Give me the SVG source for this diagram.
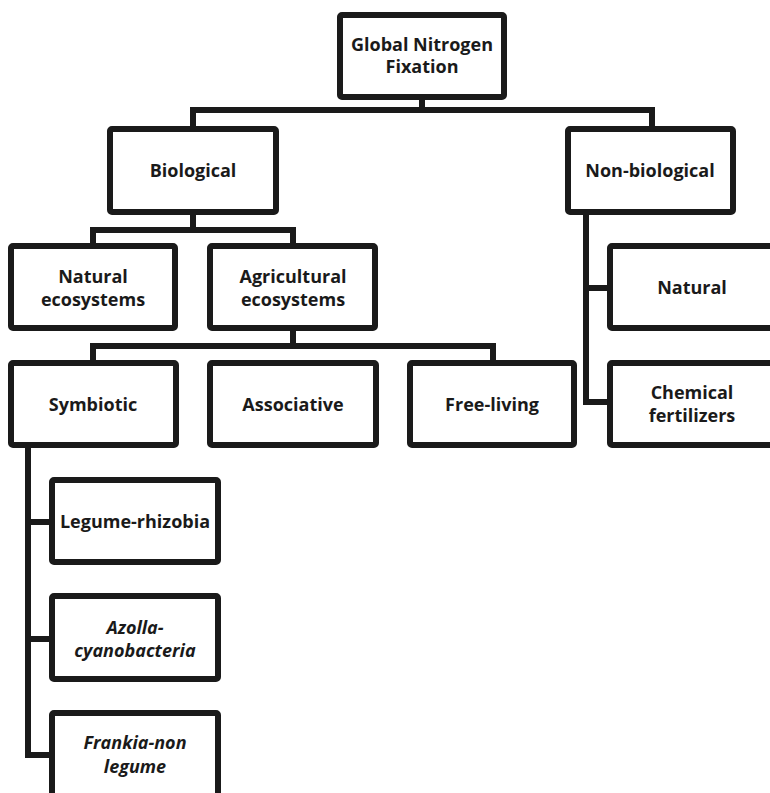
<svg xmlns="http://www.w3.org/2000/svg" width="770" height="793" viewBox="0 0 770 793">
<style>
.box{fill:#fff;stroke:#1a1a1a;stroke-width:6;stroke-linejoin:round}
.conn{fill:none;stroke:#1a1a1a;stroke-width:6;stroke-linejoin:miter}
text{font-family:"Open Sans","Liberation Sans",sans-serif;font-weight:700;font-size:18px;fill:#1a1a1a;text-anchor:middle}
.it{font-style:italic}
</style>
<rect width="770" height="793" fill="#fff"/>
<g id="connectors">
<path class="conn" d="M422 97 V110"/>
<path class="conn" d="M193 129 V110 H652 V129"/>
<path class="conn" d="M193 212 V230"/>
<path class="conn" d="M93 246 V230 H293 V246"/>
<path class="conn" d="M293 328 V346"/>
<path class="conn" d="M93 363 V346 H493 V363"/>
<path class="conn" d="M586 212 V402 H610"/>
<path class="conn" d="M586 288 H610"/>
<path class="conn" d="M28 445 V755 H52"/>
<path class="conn" d="M28 522 H52"/>
<path class="conn" d="M28 639 H52"/>
</g>
<g id="global"><rect class="box" x="340" y="15" width="164" height="82" rx="2"/><text x="422" y="51">Global Nitrogen</text><text x="422" y="73">Fixation</text></g>
<g id="biological"><rect class="box" x="110" y="129" width="166" height="83" rx="2"/><text x="193" y="177">Biological</text></g>
<g id="nonbiological"><rect class="box" x="568" y="129" width="165" height="83" rx="2"/><text x="650" y="177">Non-biological</text></g>
<g id="natural-eco"><rect class="box" x="11" y="246" width="164" height="82" rx="2"/><text x="93" y="283">Natural</text><text x="93" y="306">ecosystems</text></g>
<g id="agri-eco"><rect class="box" x="210" y="246" width="165" height="82" rx="2"/><text x="293" y="283">Agricultural</text><text x="293" y="306">ecosystems</text></g>
<g id="natural"><rect class="box" x="610" y="246" width="165" height="82" rx="2"/><text x="692" y="294">Natural</text></g>
<g id="symbiotic"><rect class="box" x="11" y="363" width="165" height="82" rx="2"/><text x="93" y="411">Symbiotic</text></g>
<g id="associative"><rect class="box" x="210" y="363" width="166" height="82" rx="2"/><text x="293" y="411">Associative</text></g>
<g id="freeliving"><rect class="box" x="410" y="363" width="164" height="82" rx="2"/><text x="492" y="411">Free-living</text></g>
<g id="chemical"><rect class="box" x="610" y="363" width="165" height="82" rx="2"/><text x="692" y="399">Chemical</text><text x="692" y="422">fertilizers</text></g>
<g id="legume"><rect class="box" x="52" y="480" width="166" height="82" rx="2"/><text x="135" y="528">Legume-rhizobia</text></g>
<g id="azolla"><rect class="box" x="52" y="596" width="166" height="83" rx="2"/><text class="it" x="135" y="634">Azolla-</text><text class="it" x="135" y="657">cyanobacteria</text></g>
<g id="frankia"><rect class="box" x="52" y="713" width="166" height="83" rx="2"/><text class="it" x="135" y="749">Frankia-non</text><text class="it" x="135" y="773">legume</text></g>
</svg>
